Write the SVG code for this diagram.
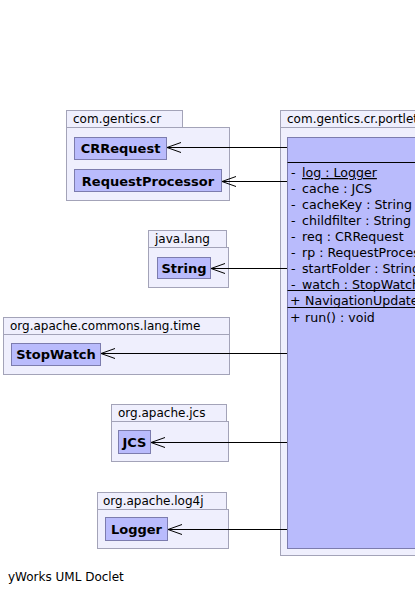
<svg xmlns="http://www.w3.org/2000/svg" width="415" height="594" viewBox="0 0 415 594">
<style>
.pkg{fill:#efeffd;stroke:#a3a3b8;stroke-width:1}
.cls{fill:#b9bbfc;stroke:#7c7cae;stroke-width:1}
.pl{font-family:"DejaVu Sans",sans-serif;font-size:12px;fill:#000}
.cn{font-family:"DejaVu Sans",sans-serif;font-size:13px;font-weight:bold;fill:#000;text-anchor:middle}
.mt{font-family:"DejaVu Sans",sans-serif;font-size:12.6px;fill:#000}
.edge{stroke:#000;stroke-width:1;fill:none}
</style>
<rect width="415" height="594" fill="#fff"/>
<g id="pkg-main">
<rect class="pkg" x="280.5" y="110.5" width="140" height="17"/>
<rect class="pkg" x="280.5" y="127.5" width="140" height="428"/>
<text class="pl" x="287" y="123">com.gentics.cr.portlet</text>
</g>
<g id="class-main">
<rect class="cls" x="287.5" y="137.5" width="140" height="411"/>
<line x1="287.5" y1="162.5" x2="415" y2="162.5" stroke="#000"/>
<text class="mt" x="291" y="177">-</text><text class="mt" x="302" y="177" text-decoration="underline">log : Logger</text>
<text class="mt" x="291" y="193">-</text><text class="mt" x="302" y="193">cache : JCS</text>
<text class="mt" x="291" y="209">-</text><text class="mt" x="302" y="209">cacheKey : String</text>
<text class="mt" x="291" y="225">-</text><text class="mt" x="302" y="225">childfilter : String</text>
<text class="mt" x="291" y="241">-</text><text class="mt" x="302" y="241">req : CRRequest</text>
<text class="mt" x="291" y="257">-</text><text class="mt" x="302" y="257">rp : RequestProcessor</text>
<text class="mt" x="291" y="273">-</text><text class="mt" x="302" y="273">startFolder : String</text>
<text class="mt" x="291" y="288.5">-</text><text class="mt" x="302" y="288.5">watch : StopWatch</text>
<line x1="287.5" y1="290.5" x2="415" y2="290.5" stroke="#000"/>
<text class="mt" x="290" y="305">+</text><text class="mt" x="305" y="305">NavigationUpdater</text>
<line x1="287.5" y1="307.5" x2="415" y2="307.5" stroke="#000"/>
<text class="mt" x="290" y="321.5">+</text><text class="mt" x="305" y="321.5">run() : void</text>
</g>
<g id="pkg-gentics">
<rect class="pkg" x="66.5" y="110.5" width="116" height="17"/>
<rect class="pkg" x="66.5" y="127.5" width="163" height="73"/>
<text class="pl" x="73" y="123">com.gentics.cr</text>
</g>
<g id="class-CRRequest">
<rect class="cls" x="74.5" y="137.5" width="92" height="22"/>
<text class="cn" x="120.5" y="153">CRRequest</text>
</g>
<g id="class-RequestProcessor">
<rect class="cls" x="74.5" y="169.5" width="147" height="22"/>
<text class="cn" x="148" y="185.5">RequestProcessor</text>
</g>
<g id="pkg-javalang">
<rect class="pkg" x="148.5" y="230.5" width="78" height="17"/>
<rect class="pkg" x="148.5" y="247.5" width="80" height="40"/>
<text class="pl" x="155" y="243">java.lang</text>
</g>
<g id="class-String">
<rect class="cls" x="157.5" y="257.5" width="53" height="21"/>
<text class="cn" x="184" y="273">String</text>
</g>
<g id="pkg-commons">
<rect class="pkg" x="3.5" y="317.5" width="226" height="17"/>
<rect class="pkg" x="3.5" y="334.5" width="226" height="40"/>
<text class="pl" x="10" y="330">org.apache.commons.lang.time</text>
</g>
<g id="class-StopWatch">
<rect class="cls" x="11.5" y="343.5" width="89" height="22"/>
<text class="cn" x="56" y="359">StopWatch</text>
</g>
<g id="pkg-jcs">
<rect class="pkg" x="111.5" y="404.5" width="115" height="17"/>
<rect class="pkg" x="111.5" y="421.5" width="117" height="40"/>
<text class="pl" x="118" y="417">org.apache.jcs</text>
</g>
<g id="class-JCS">
<rect class="cls" x="118.5" y="430.5" width="32" height="23"/>
<text class="cn" x="134.5" y="447">JCS</text>
</g>
<g id="pkg-log4j">
<rect class="pkg" x="97.5" y="492.5" width="129" height="17"/>
<rect class="pkg" x="97.5" y="509.5" width="131" height="39"/>
<text class="pl" x="103" y="505">org.apache.log4j</text>
</g>
<g id="class-Logger">
<rect class="cls" x="105.5" y="517.5" width="62" height="23"/>
<text class="cn" x="136.5" y="534">Logger</text>
</g>
<g id="edges">
<path class="edge" d="M287 147.5H167M181 142.5L167 147.5L181 152.5"/>
<path class="edge" d="M287 181.5H222M236 176.5L222 181.5L236 186.5"/>
<path class="edge" d="M287 268.5H211M225 263.5L211 268.5L225 273.5"/>
<path class="edge" d="M287 353.5H101M115 348.5L101 353.5L115 358.5"/>
<path class="edge" d="M287 442.5H151M165 437.5L151 442.5L165 447.5"/>
<path class="edge" d="M287 529.5H168M182 524.5L168 529.5L182 534.5"/>
</g>
<text class="pl" x="8" y="581">yWorks UML Doclet</text>
</svg>
